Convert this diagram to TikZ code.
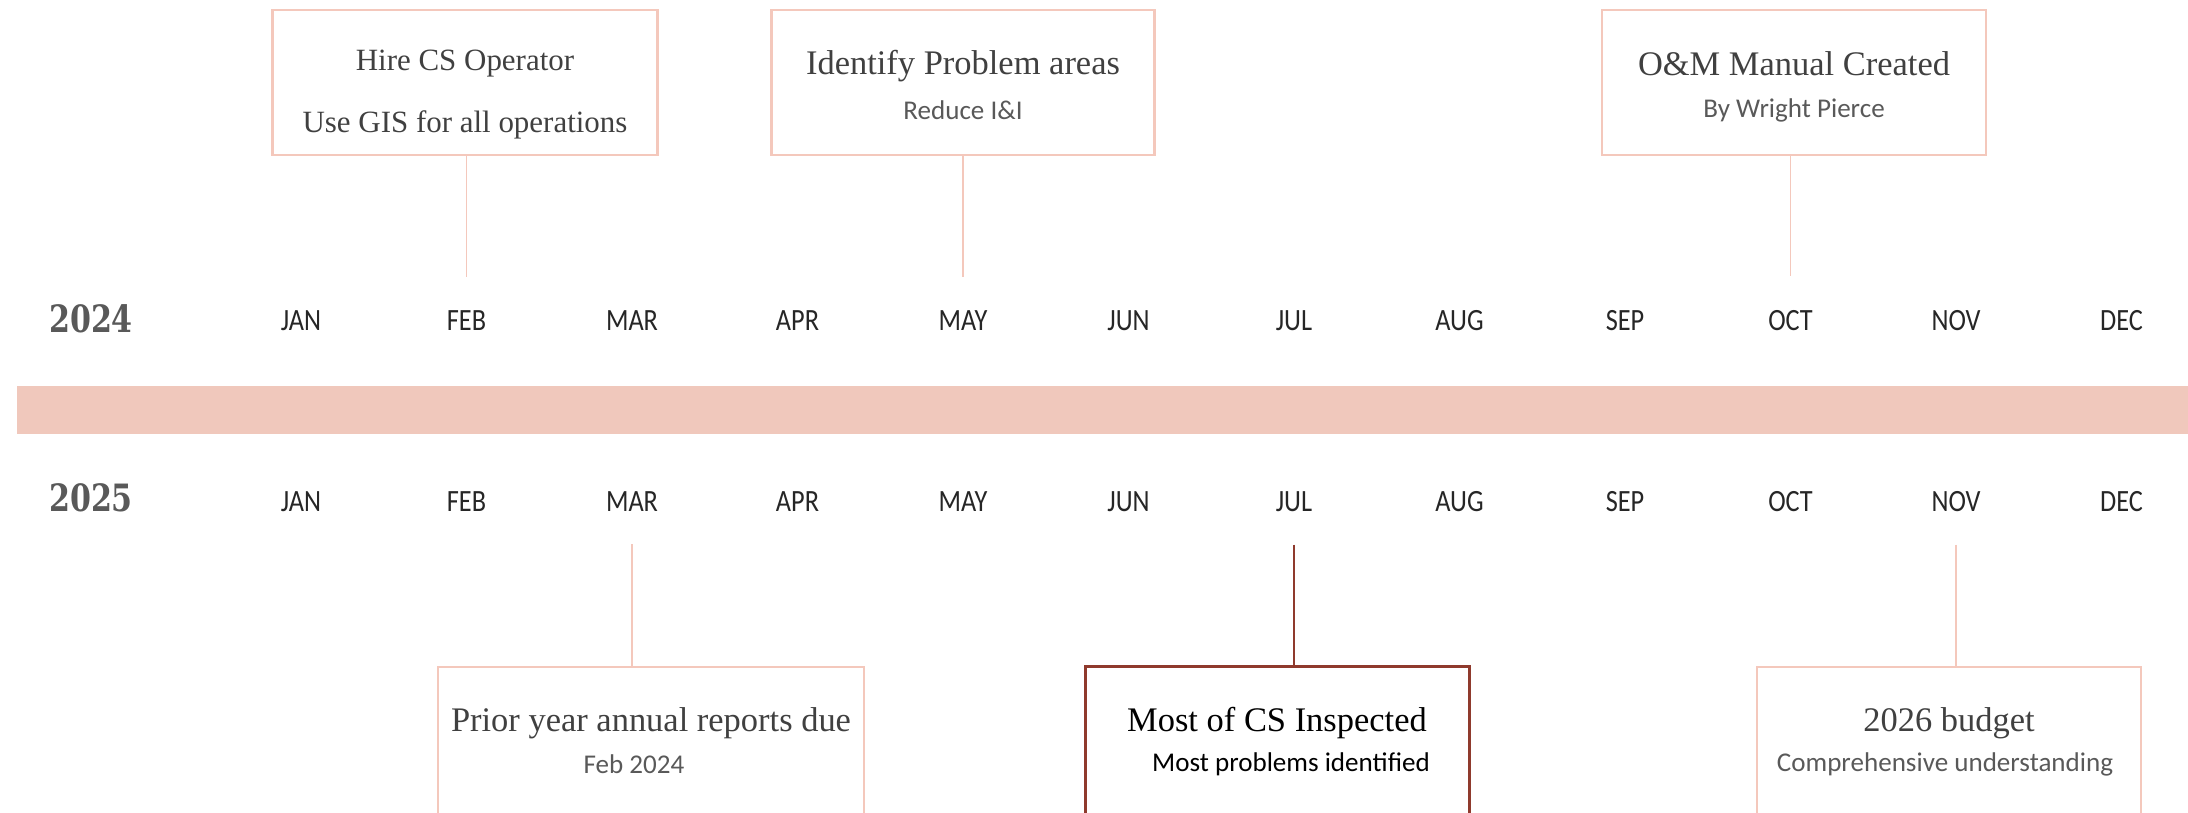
\documentclass[tikz,border=0pt]{standalone}
\usepackage{fontspec}
\setmainfont{Liberation Serif}
\newfontfamily\monthfont{Carlito}[FakeStretch=0.85]
\newfontfamily\notefont{Carlito}
\newfontfamily\yearfont{DejaVu Serif}[FakeStretch=0.8]
\usepackage{tikz}

\definecolor{pinkline}{RGB}{244,200,188}
\definecolor{bandpink}{RGB}{240,200,188}
\definecolor{rust}{RGB}{143,58,45}
\definecolor{inkgray}{RGB}{64,64,64}
\definecolor{notegray}{RGB}{89,89,89}

\tikzset{
  month/.style={anchor=base, font=\monthfont\fontsize{8.8pt}{10pt}\selectfont, text=black!85},
  year/.style={anchor=base, font=\yearfont\bfseries\fontsize{10.7pt}{12pt}\selectfont, text=notegray},
  event/.style={draw=pinkline, line width=0.7pt, minimum height=1.45cm},
  headline/.style={font=\fontsize{9.8pt}{11pt}\selectfont, text=inkgray},
  note/.style={font=\notefont\fontsize{7.7pt}{9pt}\selectfont, text=notegray},
  stem/.style={draw=pinkline, line width=0.55pt},
}

\begin{document}
\begin{tikzpicture}[x=0.01cm,y=-0.01cm]
    \useasboundingbox (0,0) rectangle (2188,812);
    \clip (0,0) rectangle (2188,812);

    % the band between the two years
    \path [fill=bandpink] (17,386) rectangle (2188,434);

    \node [year] (y24) at (91,332) {2024};
    \node [year] (y25) at (91,511) {2025};
    \foreach \m [count=\i] in {JAN,FEB,MAR,APR,MAY,JUN,JUL,AUG,SEP,OCT,NOV,DEC} {
        \node [month] (m24-\i) at ({301+165.5*(\i-1)},330) {\m};
        \node [month] (m25-\i) at ({301+165.5*(\i-1)},511) {\m};
    }

    % 2024 events
    \node [event, minimum width=3.85cm] (hire) at (465,82.5) {};
    \node [headline, font=\fontsize{8.8pt}{10pt}\selectfont] (hire-t) at (465,64) {Hire CS Operator};
    \node [headline, font=\fontsize{8.8pt}{10pt}\selectfont] (hire-s) at (465,125) {Use GIS for all operations};

    \node [event, minimum width=3.83cm] (ident) at (963,82.5) {};
    \node [headline] (ident-t) at (963,66) {Identify Problem areas};
    \node [note] (ident-s) at (963,110) {Reduce I\&I};

    \node [event, minimum width=3.84cm] (manual) at (1794,82.5) {};
    \node [headline] (manual-t) at (1794,64) {O\&M Manual Created};
    \node [note] (manual-s) at (1794,110) {By Wright Pierce};

    \draw [stem, shorten >=0.21cm] (m24-2.north |- hire.south) -- (m24-2.north);
    \draw [stem, shorten >=0.21cm] (m24-5.north |- ident.south) -- (m24-5.north);
    \draw [stem, shorten >=0.21cm] (m24-10.north |- manual.south) -- (m24-10.north);

    % 2025 events
    \node [event, minimum width=4.26cm, minimum height=2.33cm] (prior) at (651,783.5) {};
    \node [headline] (prior-t) at (651,723) {Prior year annual reports due};
    \node [note] (prior-s) at (634,764) {Feb 2024};

    \node [event, draw=rust, line width=0.85pt, minimum width=3.83cm, minimum height=2.33cm] (insp) at (1277.5,783.5) {};
    \node [headline, text=black] (insp-t) at (1277,723) {Most of CS Inspected};
    \node [note, text=black] (insp-s) at (1291,764) {Most problems identified};

    \node [event, minimum width=3.84cm, minimum height=2.33cm] (budget) at (1949,783.5) {};
    \node [headline] (budget-t) at (1949,723) {2026 budget};
    \node [note] (budget-s) at (1945,764) {Comprehensive understanding};

    \draw [stem, shorten <=0.21cm] (m25-3.south) -- (m25-3.south |- prior.north);
    \draw [stem, draw=rust, line width=0.7pt, shorten <=0.21cm] (m25-7.south) -- (m25-7.south |- insp.north);
    \draw [stem, shorten <=0.21cm] (m25-11.south) -- (m25-11.south |- budget.north);
\end{tikzpicture}
\end{document}
